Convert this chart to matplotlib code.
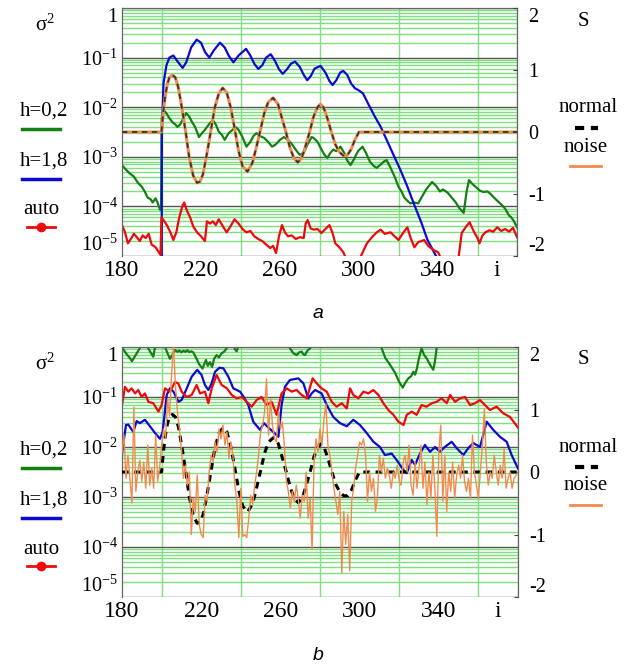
import numpy as np
import matplotlib
matplotlib.use('Agg')
import matplotlib.pyplot as plt
from matplotlib.lines import Line2D
from matplotlib.ticker import FixedLocator, NullFormatter

plt.rcParams['font.family'] = 'Liberation Serif'
plt.rcParams['mathtext.fontset'] = 'custom'
plt.rcParams['mathtext.rm'] = 'Liberation Serif'
plt.rcParams['mathtext.it'] = 'Liberation Serif:italic'

# ---- panel a : noise-free signal ----
green_a = [(180, 6.8e-4), (182, 5.5e-4), (184, 4.6e-4), (186, 4e-4), (188, 3e-4), (190, 2.5e-4),
           (191.5, 2e-4), (193, 1.5e-4), (194.5, 1.4e-4), (195.5, 1.2e-4), (197, 1.45e-4), (198, 1.2e-4),
           (199.3, 8.5e-5), (199.8, 9e-5), (200.1, 6e-3), (201, 8.8e-3), (202.5, 7.5e-3), (204, 6e-3),
           (205.5, 5e-3), (207, 4.5e-3), (208, 4e-3), (209.5, 4.5e-3), (211, 6e-3), (212.5, 7.6e-3),
           (214, 6.5e-3), (215.5, 5e-3), (217, 4e-3), (219, 2.5e-3), (220.5, 3e-3), (222, 3.5e-3),
           (224, 4.5e-3), (226, 5.5e-3), (227.5, 4.5e-3), (229, 3.2e-3), (230.5, 2.8e-3), (232, 2.2e-3),
           (234, 3e-3), (236, 3.5e-3), (237.5, 4e-3), (239, 3.5e-3), (241, 2.5e-3), (243, 1.6e-3),
           (245, 2e-3), (246.5, 2.6e-3), (248, 3e-3), (250, 2.6e-3), (252, 2.4e-3), (254, 2e-3),
           (256, 1.6e-3), (258, 1.8e-3), (260, 2.2e-3), (262, 2.5e-3), (264, 2.2e-3), (266, 1.8e-3),
           (268.5, 1.3e-3), (270, 1.1e-3), (272, 1.2e-3), (274, 1.8e-3), (276, 2.5e-3), (277, 2.4e-3),
           (279, 2e-3), (281, 1.4e-3), (282.5, 1.1e-3), (284, 9.5e-4), (285.5, 1.2e-3), (287, 1.4e-3),
           (288.5, 1.3e-3), (290.6, 1.6e-3), (292.5, 1.2e-3), (294, 8.5e-4), (295.7, 6.8e-4), (297.5, 9e-4),
           (299.5, 1.3e-3), (301.8, 1.6e-3), (303.5, 1.2e-3), (305.5, 8e-4), (307.5, 6.5e-4), (309, 6e-4),
           (311, 7e-4), (312.5, 8e-4), (314, 8.6e-4), (316, 6e-4), (318, 4e-4), (320, 2.5e-4),
           (321.5, 2e-4), (323, 1.5e-4), (324.5, 1.3e-4), (326, 1.15e-4), (328, 1.2e-4), (330, 1.15e-4),
           (332, 1.6e-4), (334, 2.2e-4), (337, 3.1e-4), (339, 2.6e-4), (341, 2e-4), (342.5, 2.2e-4),
           (344.8, 1.9e-4), (347, 1.5e-4), (349, 1.2e-4), (351, 9e-5), (353, 7.4e-5), (354.5, 2e-4),
           (355.7, 3.4e-4), (357.5, 2.8e-4), (359.5, 2.4e-4), (361, 2.1e-4), (363, 1.95e-4), (365, 2e-4),
           (366.5, 1.8e-4), (368, 1.55e-4), (370, 1.3e-4), (372, 1.1e-4), (374, 9e-5), (376, 6.5e-5),
           (377, 6.1e-5), (378.5, 5e-5), (380, 3.8e-5)]

blue_a = [(180, 1e-7), (200, 1e-7), (200.2, 3e-3), (201, 0.03), (202.5, 0.07), (204, 0.1), (206, 0.11),
          (208, 0.085), (210.7, 0.062), (212.5, 0.08), (215, 0.16), (217.8, 0.23), (220, 0.2), (222, 0.13),
          (224.2, 0.1), (226.5, 0.14), (229.6, 0.2), (232, 0.16), (234, 0.11), (236.4, 0.08), (239, 0.11),
          (242.8, 0.15), (245, 0.11), (247, 0.075), (249, 0.059), (251, 0.07), (253, 0.1), (255.3, 0.117),
          (257.5, 0.085), (259.5, 0.058), (261.4, 0.047), (263.5, 0.058), (265.5, 0.075), (267.6, 0.083),
          (270, 0.065), (272, 0.045), (273.8, 0.035), (275.5, 0.042), (277.5, 0.06), (280.5, 0.068),
          (283, 0.05), (285, 0.034), (286.6, 0.028), (288.5, 0.035), (290.5, 0.05), (292, 0.054),
          (294, 0.045), (296, 0.03), (298, 0.024), (299.8, 0.022), (302, 0.019), (305, 0.011),
          (308, 6.5e-3), (311, 4e-3), (314, 2.2e-3), (317, 1.2e-3), (321, 5.4e-4), (324.5, 2.5e-4),
          (328, 1.07e-4), (331.5, 4.8e-5), (334.7, 2.1e-5), (339, 1e-5), (342, 5e-6), (380, 1e-7)]

red_a = [(180, 4.2e-5), (181.5, 3e-5), (183, 1.8e-5), (184.5, 2.2e-5), (186, 2.8e-5), (187.5, 2.4e-5),
         (189, 2e-5), (190.5, 2.6e-5), (192, 2.3e-5), (193.5, 2.8e-5), (195, 1.7e-5), (197, 1.5e-5),
         (199.5, 1.05e-5), (200, 6e-5), (201.5, 5e-5), (203, 4e-5), (204.5, 3e-5), (206, 2.1e-5),
         (207.5, 3e-5), (209, 6e-5), (210.5, 1e-4), (211.5, 1.2e-4), (213, 8e-5), (214.5, 6e-5),
         (216, 4e-5), (218, 3e-5), (220, 2.5e-5), (222, 2e-5), (223, 5e-5), (224.5, 4.5e-5),
         (226, 5e-5), (227.5, 4.2e-5), (229, 5.5e-5), (231, 4e-5), (233, 3e-5), (235, 4e-5),
         (237, 5.5e-5), (239, 4.5e-5), (241, 3.5e-5), (243, 3e-5), (245, 3.2e-5), (247, 2.5e-5),
         (249, 2.2e-5), (251, 2e-5), (253, 1.7e-5), (255, 1.45e-5), (256.5, 1.6e-5), (258, 1.15e-5),
         (259.5, 2.5e-5), (261, 4.2e-5), (262.5, 3e-5), (264, 2.5e-5), (266, 2.6e-5), (268, 2.2e-5),
         (270, 2.4e-5), (272, 2.3e-5), (273, 4.5e-5), (274, 5.3e-5), (275.5, 3.6e-5), (277, 3.4e-5),
         (279, 3.5e-5), (281, 2.9e-5), (283, 3.5e-5), (285, 4.2e-5), (286.5, 3e-5), (288, 1.8e-5),
         (290, 1.5e-5), (292, 1.2e-5), (294, 8e-6), (296, 5e-6), (299, 5e-6), (301, 1e-5),
         (304, 1.8e-5), (307, 2.5e-5), (309, 3e-5), (311, 3.4e-5), (313, 2.8e-5), (316, 3e-5),
         (318, 2.5e-5), (320, 2.1e-5), (322, 2.8e-5), (324.5, 3.8e-5), (326, 2.4e-5), (328, 1.5e-5),
         (330, 1.9e-5), (333, 2.1e-5), (335, 1.6e-5), (338, 1.3e-5), (340, 1.2e-5), (342, 8e-6),
         (344, 9e-6), (346, 9.5e-6), (348, 8e-6), (350, 7e-6), (352, 2.9e-5), (354, 3.8e-5),
         (356, 4.8e-5), (358, 3.2e-5), (360, 2.3e-5), (361, 1.8e-5), (362.5, 2.6e-5), (364, 3e-5),
         (366, 3.3e-5), (368, 3.1e-5), (370, 3.8e-5), (372, 3.2e-5), (374, 3.5e-5), (376, 3.1e-5),
         (378, 3.7e-5), (380, 2.4e-5)]

# reference signal S (same in both panels)
normal = [(180, 0), (200, 0), (201, 0.35), (202, 0.6), (203, 0.78), (204, 0.88), (205.5, 0.92), (207, 0.88),
          (208.5, 0.72), (210, 0.45), (212, 0.05), (214, -0.4), (216, -0.7), (218, -0.82), (219.5, -0.8),
          (221, -0.68), (223, -0.35), (225, 0.02), (227, 0.4), (229, 0.62), (231, 0.71), (233, 0.64),
          (235, 0.4), (237, 0.06), (239, -0.3), (241, -0.55), (243.5, -0.64), (246, -0.5), (248, -0.25),
          (250, 0.02), (252, 0.3), (254, 0.48), (256.5, 0.55), (259, 0.45), (261, 0.22), (263, 0.0),
          (265, -0.25), (267, -0.42), (269, -0.49), (271, -0.42), (273, -0.22), (275, 0.0), (277, 0.25),
          (279, 0.4), (280.5, 0.45), (282, 0.4), (284, 0.22), (286, 0.0), (288, -0.2), (290, -0.32),
          (292, -0.38), (294, -0.38), (296, -0.28), (298, -0.12), (300, 0.0), (380, 0.0)]

# ---- panel b : noisy signal ----
green_b = [(180, 0.98), (182, 0.75), (184, 0.6), (185, 0.52), (187, 0.7), (189, 0.95), (190, 1.3),
           (192, 1.2), (193.5, 0.9), (195.8, 0.64), (196.5, 0.9), (197.5, 1.3), (200, 1.4), (201.7, 1.0),
           (203, 0.75), (204.2, 0.58), (205.5, 0.7), (206.8, 0.87), (208, 0.8), (209, 0.85), (210, 0.78),
           (211, 0.84), (212, 0.8), (213, 0.86), (214, 0.79), (215, 0.82), (216, 0.78), (217.5, 0.6),
           (219, 0.45), (220.7, 0.37), (221.5, 0.45), (222.4, 0.55), (223.3, 0.42), (224.4, 0.5),
           (225.5, 0.4), (226.5, 0.58), (227.8, 0.69), (229, 0.62), (230.3, 0.75), (231.5, 0.8),
           (232.9, 0.95), (234, 1.3), (236, 1.2), (237, 0.9), (237.9, 0.82), (239, 1.1), (242, 1.8),
           (262, 1.6), (264.8, 0.95), (266.5, 0.75), (268.2, 0.69), (269.5, 0.78), (270.7, 0.81),
           (271.5, 0.72), (272.4, 0.69), (273.7, 0.85), (275, 0.94), (276, 1.3), (280, 1.8), (300, 2.0),
           (309, 1.3), (311.1, 0.95), (313, 0.6), (315.4, 0.44), (318, 0.3), (320, 0.2), (321.8, 0.154),
           (323, 0.19), (324.6, 0.236), (326, 0.26), (327.1, 0.32), (328, 0.28), (328.8, 0.35),
           (330, 0.6), (331.3, 0.94), (332.5, 0.7), (333.9, 0.59), (335.5, 0.45), (337.2, 0.35),
           (338, 0.5), (338.9, 0.94), (339.5, 1.5), (350, 2.5), (380, 2.5)]

blue_b = [(180, 7.4e-3), (182, 0.0275), (183.2, 0.028), (185.7, 0.02), (187.4, 0.033), (189, 0.03),
          (191.6, 0.035), (194.1, 0.026), (196.7, 0.019), (199.2, 0.0146), (200.5, 0.02), (202.6, 0.11),
          (204.2, 0.149), (206, 0.128), (208.5, 0.08), (210.1, 0.087), (212.7, 0.149), (215.2, 0.255),
          (218, 0.35), (220.2, 0.275), (221.9, 0.174), (223.6, 0.138), (225.3, 0.188), (227, 0.32),
          (229.2, 0.386), (231.2, 0.375), (233.7, 0.255), (236.2, 0.149), (239.6, 0.128), (241.5, 0.1),
          (243.8, 0.069), (246.3, 0.032), (249.7, 0.022), (251.7, 0.03), (253.9, 0.0245), (256.4, 0.02),
          (259, 0.016), (260.6, 0.069), (262.3, 0.16), (264.8, 0.219), (269, 0.236), (271.6, 0.188),
          (274.1, 0.094), (275.8, 0.118), (277.5, 0.138), (280.8, 0.118), (283.4, 0.069), (286.7, 0.04),
          (290.1, 0.03), (293.5, 0.026), (296.8, 0.035), (300.2, 0.0275), (303.6, 0.019), (307, 0.0127),
          (310.3, 0.01), (312.8, 6.9e-3), (316.2, 7.4e-3), (318.7, 5.5e-3), (322.1, 3.5e-3),
          (323.8, 3e-3), (326.3, 5.5e-3), (328, 4.4e-3), (330.5, 7.4e-3), (333, 0.011), (335.6, 8e-3),
          (338.1, 0.01), (340.6, 8e-3), (343, 0.01), (346.5, 0.0127), (349, 9.5e-3), (352.4, 6.9e-3),
          (354.9, 9.5e-3), (357.4, 0.012), (360.8, 0.01), (364.2, 0.032), (367.5, 0.022), (370.9, 0.016),
          (374.3, 0.0127), (376.8, 6.9e-3), (380, 3.7e-3)]

red_b = [(180, 0.069), (181.5, 0.16), (183.2, 0.128), (184.9, 0.149), (186.6, 0.118), (188.2, 0.138),
         (189.9, 0.1), (191.6, 0.118), (193.3, 0.08), (195.8, 0.075), (198.4, 0.051), (200, 0.069),
         (201.7, 0.149), (204.2, 0.128), (206.8, 0.2), (208.5, 0.185), (210.1, 0.128), (212.7, 0.1),
         (215.2, 0.11), (217.7, 0.174), (219.4, 0.118), (221.9, 0.128), (223.6, 0.075), (225.3, 0.149),
         (227.8, 0.275), (230.3, 0.174), (233, 0.149), (235.4, 0.11), (237.9, 0.094), (240.5, 0.1),
         (243, 0.08), (245.5, 0.064), (248, 0.087), (250.5, 0.1), (253, 0.069), (255.6, 0.08),
         (258.1, 0.044), (260.6, 0.118), (263.2, 0.149), (265.7, 0.128), (268.2, 0.138), (270.7, 0.11),
         (273.3, 0.094), (276.3, 0.236), (278.3, 0.188), (280.8, 0.149), (283.4, 0.128), (285.9, 0.08),
         (288.4, 0.064), (291, 0.075), (293.5, 0.059), (295.2, 0.149), (296.8, 0.11), (299.4, 0.094),
         (301.9, 0.128), (304.4, 0.118), (306.9, 0.138), (309.5, 0.11), (312, 0.075), (314.5, 0.055),
         (317.1, 0.044), (319.6, 0.032), (322.2, 0.0275), (323.8, 0.044), (326.3, 0.051), (328.8, 0.044),
         (331.3, 0.069), (333.8, 0.064), (336.4, 0.075), (338.9, 0.08), (341.4, 0.094), (344, 0.075),
         (345.7, 0.11), (348.2, 0.08), (350.7, 0.094), (353.2, 0.1), (355.8, 0.069), (358.3, 0.075),
         (360.8, 0.087), (363.3, 0.069), (365.8, 0.055), (369.2, 0.064), (372.6, 0.047), (375.9, 0.04),
         (380, 0.0245)]

i_b = np.arange(180, 381)
noise_b = [0.32, 0.59, -0.10, 0.27, -0.10, -0.50, 1.04, -0.31, 0.0, 0.19,
           -0.15, 0.16, -0.26, 0.43, -0.21, 0.06, -0.26, 0.59, -0.15, 0.06,
           0.43, 0.69, 0.55, 1.17, 0.90, 1.54, 2.05, 1.38, 0.96, 0.69,
           0.38, -0.10, 0.11, -0.21, 0.0, -1.00, -0.42, -0.63, -0.05, -0.84,
           -1.00, -1.05, -0.37, -0.47, 0.0, 0.27, 0.16, 0.48, 0.32, 0.69,
           0.53, 0.75, 0.43, 0.64, 0.22, 0.48, 0.27, -0.21, -0.47, -1.05,
           -0.26, -1.03, -1.00, -1.05, -0.74, -0.37, -0.52, -0.21, 0.0, 0.27,
           0.64, 0.75, 0.96, 1.49, 0.59, 1.17, 0.75, 0.53, 0.48, 0.96,
           0.69, 0.80, 0.43, -0.15, -0.31, -0.58, -0.31, -0.47, -0.21, -0.42,
           -0.74, -0.37, -0.47, 0.0, -0.74, -0.42, -1.24, 0.16, 0.53, 0.32,
           0.69, 0.43, 0.85, 1.09, 0.43, 0.27, 0.0, -0.26, -0.47, -0.68,
           -0.31, -1.61, -0.63, -1.16, -0.68, -1.58, -0.47, -0.26, 0.06, 0.27,
           0.48, 0.43, 0.53, 0.27, -0.47, 0.0, -0.31, -0.10, -0.63, -0.42,
           0.27, 0.0, 0.22, -0.10, 0.06, -0.05, -0.26, 0.0, -0.10, 0.11,
           -0.15, -0.21, 0.16, 0.27, 0.0, 0.43, -0.21, -0.37, 0.16, -0.26,
           0.06, 0.43, -0.26, 0.16, -0.52, 0.0, -0.42, 0.27, -0.26, -1.03,
           0.32, 0.75, -0.47, 0.27, -0.63, 0.0, -0.31, 0.16, -0.42, -0.05,
           0.11, -0.10, 0.27, -0.15, -0.31, -0.10, -0.42, 0.59, 0.0, -0.21,
           -0.42, 0.0, 0.43, 1.01, 0.16, -0.21, 0.0, -0.10, 0.27, 0.0,
           -0.21, 0.11, -0.10, 0.37, -0.26, -0.10, 0.0, -0.26, -0.10, -0.05, 0.0]

xticks = [180, 220, 260, 300, 340, 370]
xticklabels = ['180', '220', '260', '300', '340', 'i']
decades = [1e-5, 1e-4, 1e-3, 1e-2, 1e-1, 1]
decade_labels = [r'$\mathregular{10^{-5}}$', r'$\mathregular{10^{-4}}$', r'$\mathregular{10^{-3}}$',
                 r'$\mathregular{10^{-2}}$', r'$\mathregular{10^{-1}}$', '1']
s_ticks = [-2, -1, 0, 1, 2]
s_labels = ['-2', '-1', '0', '1', '2']

GREEN = '#138013'
BLUE = '#0a0ad2'
RED = '#ee0a0a'
ORANGE = '#f28a4e'
GRID = '#7fe07f'

W, H = 635, 667
fig = plt.figure(figsize=(W / 100, H / 100), dpi=100)


def xy(pts):
    a = np.array(pts, dtype=float)
    return a[:, 0], a[:, 1]


def setup(ax, ax2):
    ax.set_yscale('log')
    ax.set_xlim(180, 380)
    ax.set_ylim(1e-5, 1)
    ax.set_xticks(xticks)
    ax.set_xticklabels(xticklabels, fontsize=17)
    ax.set_xticks(np.arange(180, 381, 20), minor=True)
    ax.yaxis.set_major_locator(FixedLocator(decades))
    ax.set_yticklabels(decade_labels, fontsize=14.5)
    minors = [m * 10.0 ** e for e in range(-5, 0) for m in range(2, 10)]
    ax.yaxis.set_minor_locator(FixedLocator(minors))
    ax.yaxis.set_minor_formatter(NullFormatter())
    ax.tick_params(axis='both', which='both', length=0)
    ax.tick_params(axis='x', pad=3)
    ax.tick_params(axis='y', pad=3)
    ax.grid(True, axis='x', which='minor', color=GRID, lw=1.0)
    ax.grid(True, axis='y', which='minor', color=GRID, lw=1.0)
    ax.grid(True, axis='y', which='major', color='#555555', lw=1.0)
    ax.set_axisbelow(True)
    for s in ['left', 'right', 'top']:
        ax.spines[s].set_color('#666666')
        ax.spines[s].set_linewidth(0.9)
    ax.spines['bottom'].set_visible(False)
    labs = ax.get_yticklabels()
    labs[0].set_va('bottom')
    labs[-1].set_va('top')

    ax2.set_ylim(-2, 2)
    ax2.set_yticks(s_ticks)
    ax2.set_yticklabels(s_labels, fontsize=14.5)
    ax2.tick_params(axis='y', direction='in', length=3, color='#444444', pad=8)
    labs2 = ax2.get_yticklabels()
    labs2[0].set_va('bottom')
    labs2[-1].set_va('top')
    for s in ax2.spines.values():
        s.set_visible(False)


def side_labels(dy):
    fig.text(45 / W, 1 - (25 + dy) / H, r'$\mathregular{\sigma^2}$', fontsize=15, ha='center', va='center')
    fig.text(44 / W, 1 - (111 + dy) / H, 'h=0,2', fontsize=15, ha='center', va='center')
    fig.text(44 / W, 1 - (161 + dy) / H, 'h=1,8', fontsize=15, ha='center', va='center')
    fig.text(41 / W, 1 - (210 + dy) / H, 'auto', fontsize=15, ha='center', va='center')
    fig.add_artist(Line2D([22 / W, 60 / W], [1 - (129 + dy) / H] * 2, color=GREEN, lw=2.5))
    fig.add_artist(Line2D([22 / W, 60 / W], [1 - (179 + dy) / H] * 2, color=BLUE, lw=2.5))
    fig.add_artist(Line2D([27 / W, 55 / W], [1 - (227 + dy) / H] * 2, color=RED, lw=2.0))
    fig.add_artist(Line2D([41 / W], [1 - (227 + dy) / H], color=RED, marker='o', ms=6))
    fig.text(583 / W, 1 - (21 + dy) / H, 'S', fontsize=15, ha='center', va='center')
    fig.text(588 / W, 1 - (108 + dy) / H, 'normal', fontsize=15, ha='center', va='center')
    fig.add_artist(Line2D([575 / W, 598 / W], [1 - (128 + dy) / H] * 2, color='black', lw=3,
                          ls=(0, (2.2, 1.6))))
    fig.text(586 / W, 1 - (147 + dy) / H, 'noise', fontsize=15, ha='center', va='center')
    fig.add_artist(Line2D([570 / W, 601 / W], [1 - (166 + dy) / H] * 2, color=ORANGE, lw=2.0))


nx, ny = xy(normal)

# panel a
ax_a = fig.add_axes([122 / W, 1 - 256 / H, 395 / W, 248 / H])
ax_a2 = ax_a.twinx()
setup(ax_a, ax_a2)
ax_a.plot(*xy(green_a), color=GREEN, lw=1.6)
ax_a.plot(*xy(blue_a), color=BLUE, lw=1.6)
ax_a.plot(*xy(red_a), color=RED, lw=1.6)
ax_a2.plot(nx, ny, color=ORANGE, lw=2.2)
ax_a2.plot(nx, ny, color='#333333', lw=1.3, ls=(0, (3, 2.5)))
side_labels(0)
fig.text(318 / W, 1 - 314 / H, 'a', fontsize=14, style='italic', family='Liberation Sans',
         ha='center', va='center')

# panel b
ax_b = fig.add_axes([122 / W, 1 - 597 / H, 396 / W, 250 / H])
ax_b2 = ax_b.twinx()
setup(ax_b, ax_b2)
ax_b.plot(*xy(green_b), color=GREEN, lw=1.6)
ax_b.plot(*xy(blue_b), color=BLUE, lw=1.6)
ax_b.plot(*xy(red_b), color=RED, lw=1.6)
ax_b2.plot(nx, ny, color='black', lw=2.2, ls=(0, (2.2, 1.8)))
ax_b2.plot(i_b, noise_b, color=ORANGE, lw=1.0)
side_labels(339)
fig.text(318 / W, 1 - 655 / H, 'b', fontsize=14, style='italic', family='Liberation Sans',
         ha='center', va='center')

fig.savefig('out.png', dpi=100)
